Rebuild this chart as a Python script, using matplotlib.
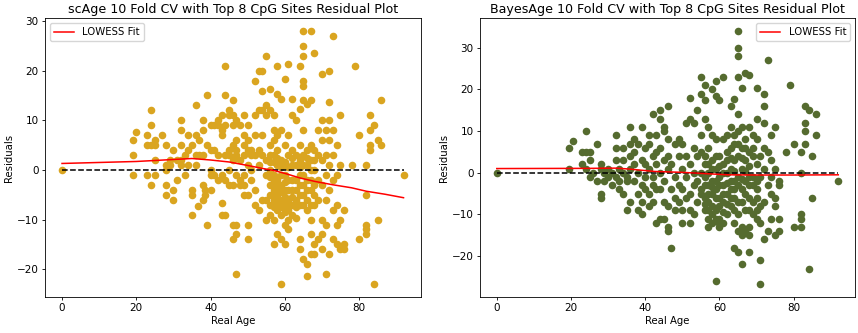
import numpy as np
import matplotlib
matplotlib.use("Agg")
import matplotlib.pyplot as plt

# ---------------- scAge panel data ----------------
sc_ages = [0, 19, 20, 23, 24, 25, 27, 28, 29, 30, 31, 32, 33, 34, 35, 36, 36.5, 37, 38, 38.5,
           39, 40, 41, 42, 43, 44, 45, 46, 47, 48, 49, 50, 51, 52, 53, 54, 55, 56, 57, 58,
           59, 60, 61, 62, 63, 64, 65, 66, 67, 68, 69, 70, 71, 72, 73, 74, 75, 76, 78, 79,
           80, 82, 83, 84, 85, 86, 92]
sc_resid = [
    [0], [6, 3, -1], [7.6], [7, 5, -1], [12, 9, 5, -3], [6, 5, 2, -1], [7],
    [5, 1, 0, -3, -5], [2, 1], [4, -4, -6], [2, -2], [10, 8, 5, 2, 1], [3, -1],
    [7, 4, 1], [5, -4, -5, -9], [13, 7, 3, 1], [-7.2], [6, 3], [10, 8, 3, -3, -6],
    [-4, -5], [15, 5, -11], [9, 4, 0, -1, -4], [9, 4, -1], [10, 9, 3, -2],
    [11, 8, 7, -1, -6.6, -9], [21, 15, 9, 3, -2, -9], [12, 11, 4, 3, 0, -3],
    [14, 11, 9, 5, 2, -3, -11, -14], [10, 6, 4, 3, -1, -11, -13, -21], [9, 2, -2, -3],
    [11, 7, 5, 3, -1, -3, -5], [9, 6, 4, 1, -5, -11, -14], [4, 3, 0, -2],
    [18, 11, 7, 3, -4, -7], [20, 12, 4, 1, -8], [20, 16, 12, 7, 3, -6],
    [23, 13, 11, 2, -1, -6, -10],
    [16.3, 12, 5, 3, 0, -3, -7, -9, -5, -1.5, 1.5],
    [11, 8, 6, 3, -1, -4, -6, -10, -15, -2.5, -7.5, 1.5],
    [21, 15.3, 7, 4, 1, -2, -5, -8, -13, -3.5, -6.5, 2.5],
    [14.3, 8, 2, -3, -6, -9, -14, -23, -1, -4.5, -7.5, 0.5],
    [18.3, 5, -1, -4, -7, -11, -15, -2.5, -5.5, -8.5, 1.5],
    [21.3, 7, 3, -2, -6, -8, -12, -4, -10, 0.5],
    [14.3, 11, 4, 1, -4, -7, -2, -5.5, -9, 2.5],
    [10, 3, -2, -6, -9.7, -4, -7.5, 1],
    [21, 12.3, 5, 2, -3, -7, -14, -16, -1, -5, 0.5],
    [28, 25, 23, 18, 17, 14, 8, 3, -1, -5, -18, -3, -7, 1],
    [13.3, 4, 1, -2, -6, -8, -19, -21.4, -4, 2.5],
    [28, 14, 5, 2, -4, -10, -13, -17, 0, -2, -7],
    [23.5, 4, 0, -7, -15, -17, -3, 2, -5],
    [8, 3, -2, -6, -14], [19.3, 10, 6, 2, -3, -10, -13, -16], [8, 3, -1, -6, -11, -21],
    [20, 13.7, 10, 6, 1, -4, -17], [27, 8, 3, -2, -8, -14], [5, -1, -7, -11, -15],
    [11, 1, -10, -16], [-8, -15, -16], [1], [21], [7, -14], [1, -5, -11, -12, -13],
    [11, 8, 5, 4], [9, -23], [6, -10], [14, 5], [-1],
]
sc_lowess_x = [0, 20, 30, 35, 40, 45, 50, 54, 57, 60.5, 64, 68, 73, 78, 82, 87, 92]
sc_lowess_y = [1.3, 1.7, 2.1, 2.3, 2.0, 1.6, 0.9, 0.3, -0.1, -0.8, -1.6, -2.3, -3.0, -3.6, -4.3, -4.9, -5.6]

# ---------------- BayesAge panel data ----------------
by_ages = [0, 19.5, 20.5, 23, 24, 25, 26, 27, 28, 29, 30, 31, 32, 33, 34, 35, 36, 37, 38, 39,
           40, 41, 42, 43, 44, 45, 46, 47, 48, 49, 50, 51, 52, 53, 54, 55, 56, 57, 58, 59,
           60, 61, 62, 63, 64, 65, 66, 67, 68, 69, 70, 71, 72, 73, 74, 75, 76, 78, 79, 80,
           82, 83, 84, 85, 86, 92]
by_resid = [
    [0], [6, 1], [7.6], [5, 2], [10, 5, 1], [5, 3, -1], [0], [7, -2], [2, 1, -5, -6],
    [0, -2], [1, -1], [0, -3], [9, 6, 3, -1], [1, -2, -4], [6, 3, 0, -5], [-1, -2, -9],
    [11, 7, 4, 1, -7], [8, 5, 2, -2], [7, 0, -5, -9], [11, 3, -3, -7, -10],
    [6, 2, -1, -4], [9, 7, 1, -5, -8], [14, 4, -1, -3, -7], [9, 5, 2, -4, -12],
    [15, 13, 6, 0, -4, -11], [11, 10, 3, -2, -7, -11], [16, 8, 4, 1, -8, -13, -14],
    [2, -4, -18], [7, -1, -6, -9], [8, 4, -3, -7], [7, 1, -4, -9, -12], [12, 4, -1, -6],
    [18, 13, 2, -5, -9, -12], [12, 6, 0, -3, -10], [15, 4, -2, -7],
    [23, 19, 9, 5, 0, -4, -5],
    [21, 17.5, 13, 4, -1, -6, -9, -3, -7.5, 2],
    [11, 6, 2, -3, -7, -11, -13, -5, 0, -9],
    [20, 9, 3, -2, -5, -8, -12, -3.5, 1, -10],
    [22, 18.4, 8, 1, -4, -9, -26, -2, -6, -11, 4],
    [17.5, 4, -1, -6, -11, -13, -3, -8, 1.5, -12],
    [23, 8, 2, -3, -7, -12, -5, 0, -9.5],
    [9, 5, 0, -5, -10, -2.5, -7.5, 3],
    [16, 11, 6, 1, -4, -8, -2, -6, 3.5],
    [17.6, 7, 3, -2, -6, -9, -12, -18, -4, 0.5, 9],
    [34, 30, 28, 23, 14, 10, 4, -1, -7, -14, -19, -3, -10, 7],
    [20.4, 11, 6, 1, -4, -13, -15, -22, -7, -1.5, 3.5],
    [24, 8, 3, -2, -9, -14, -5, 0.5, 6],
    [23.4, 11, 5, -1, -6, -13, -15, -19, -3, 1.5, -9],
    [9, 4, -3, -7, -10, -1, 6],
    [20.4, 13, 8, 2, -4, -9, -11, -2, -6],
    [4, -1, -8, -12, -21, -26.7], [19, 16, 12, 6, 1, -7, -16], [27, 5, -3, -14],
    [9, 3, -1, -5, -11], [11, 1, -6, -8, -15], [-2, -3, -11, -14], [5], [21], [7, -13],
    [5, 0, -10, -11, -13], [16, 12, 10, 7], [15, -23], [4, -6], [14, 9], [-2],
]
by_lowess_x = [0, 25, 32, 35.5, 39, 42.6, 49.8, 54, 57.9, 62.4, 70, 80, 92]
by_lowess_y = [1.0, 1.05, 1.1, 0.9, 0.6, 0.3, 0.1, -0.1, -0.3, -0.5, -0.55, -0.55, -0.5]

titles = ["scAge 10 Fold CV with Top 8 CpG Sites Residual Plot",
          "BayesAge 10 Fold CV with Top 8 CpG Sites Residual Plot"]
colors = ["#DAA520", "#556B2F"]
legend_locs = ["upper left", "upper right"]

fig = plt.figure(figsize=(8.58, 3.33), dpi=100)
ax1 = fig.add_axes([0.0524, 0.109, 0.4378, 0.836])
ax2 = fig.add_axes([0.5591, 0.109, 0.4378, 0.836])

panels = [
    (ax1, sc_ages, sc_resid, sc_lowess_x, sc_lowess_y),
    (ax2, by_ages, by_resid, by_lowess_x, by_lowess_y),
]
for i, (ax, ages, resid, lx, ly) in enumerate(panels):
    xs = np.concatenate([[a] * len(r) for a, r in zip(ages, resid)])
    ys = np.concatenate([np.asarray(r, dtype=float) for r in resid])
    ax.scatter(xs, ys, s=30, color=colors[i], zorder=2, linewidths=0)
    ax.hlines(0, xs.min(), xs.max(), colors="black", linestyles="--", linewidth=1.1, zorder=3)
    ax.plot(lx, ly, color="red", linewidth=1.1, label="LOWESS Fit", zorder=4)
    ax.set_title(titles[i], fontsize=9.1, pad=4)
    ax.set_xlabel("Real Age", fontsize=7.3, labelpad=2)
    ax.set_ylabel("Residuals", fontsize=7.3, labelpad=2)
    ax.tick_params(labelsize=7.5, length=2.5, width=0.6, pad=2)
    ax.set_xticks([0, 20, 40, 60, 80])
    for sp in ax.spines.values():
        sp.set_linewidth(0.6)
    ax.legend(loc=legend_locs[i], fontsize=7.3, handlelength=2.0)

fig.savefig("out.png", dpi=100)
